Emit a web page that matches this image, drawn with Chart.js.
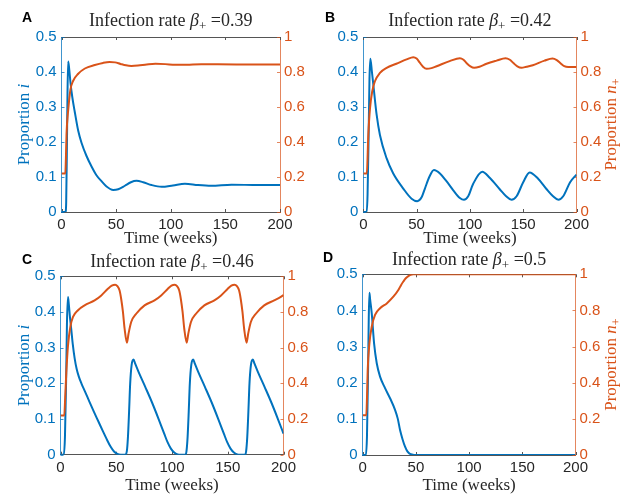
<!DOCTYPE html>
<html>
<head>
<meta charset="utf-8">
<script src="https://cdn.jsdelivr.net/npm/chart.js@4.4.0/dist/chart.umd.min.js"></script>
<style>
  body { margin: 0; background: #fff; width: 629px; height: 498px; position: relative; overflow: hidden; }
  canvas { position: absolute; }
</style>
</head>
<body>
<canvas id="panelA" width="315" height="250" style="left:0;top:0;width:315px;height:250px"></canvas>
<canvas id="panelB" width="314" height="250" style="left:315px;top:0;width:314px;height:250px"></canvas>
<canvas id="panelC" width="315" height="248" style="left:0;top:250px;width:315px;height:248px"></canvas>
<canvas id="panelD" width="314" height="248" style="left:315px;top:250px;width:314px;height:248px"></canvas>
<script>
// ─── Data ─────────────────────────────────────────
const timeTicks = [0, 50, 100, 150, 200];
const infTicks  = [0, 0.1, 0.2, 0.3, 0.4, 0.5];
const nTicks    = [0, 0.2, 0.4, 0.6, 0.8, 1];
const betaValues   = ['0.39', '0.42', '0.46', '0.5'];
const panelLetters = ['A', 'B', 'C', 'D'];

// A: beta = 0.39
const weeksInfA = [0, 3.7, 4.3, 4.9, 5.5, 6.1, 7.0, 8.2, 9.8, 12.2, 15.3, 18.3, 22.9, 27.5, 32, 36.6, 41.2, 47.3, 51.9, 58, 63.5, 68.7, 74.8, 82.4, 91.6, 102, 113, 125, 137, 155.7, 180, 200];
const infA      = [0, 0, 0.03, 0.17, 0.34, 0.43, 0.41, 0.37, 0.33, 0.285, 0.232, 0.198, 0.16, 0.13, 0.105, 0.088, 0.073, 0.063, 0.065, 0.075, 0.085, 0.089, 0.085, 0.077, 0.072, 0.076, 0.081, 0.077, 0.075, 0.078, 0.077, 0.077];
const weeksNA   = [0, 3.5, 4.0, 4.6, 6.1, 8.2, 10.7, 15.3, 21.4, 30.5, 38, 44, 49, 54, 59, 64, 70, 78, 86, 95, 104, 115, 128, 140, 160, 200];
const nPlusA    = [0.22, 0.22, 0.3, 0.445, 0.58, 0.70, 0.75, 0.79, 0.82, 0.84, 0.852, 0.857, 0.855, 0.846, 0.838, 0.835, 0.837, 0.843, 0.847, 0.845, 0.841, 0.842, 0.845, 0.844, 0.843, 0.843];

// B: beta = 0.42
const weeksInfB = [0, 3.2, 4, 5, 5.8, 6.6, 8.1, 9.4, 12.5, 15.6, 21.9, 28.1, 37.5, 45.3, 50.6, 54.7, 57.8, 61.9, 66.3, 71.9, 78, 84.4, 90.6, 94.4, 98.4, 103, 111.6, 118.8, 128, 134, 139, 143.8, 150, 156, 164, 172, 178, 183, 187.5, 194, 200];
const infB      = [0, 0, 0.05, 0.22, 0.38, 0.438, 0.40, 0.364, 0.278, 0.22, 0.153, 0.11, 0.067, 0.038, 0.031, 0.042, 0.067, 0.1, 0.12, 0.11, 0.088, 0.062, 0.04, 0.035, 0.045, 0.08, 0.115, 0.097, 0.065, 0.045, 0.035, 0.045, 0.085, 0.113, 0.095, 0.065, 0.045, 0.035, 0.045, 0.085, 0.107];
const weeksNB   = [0, 3.3, 4.7, 6.3, 8.4, 10.9, 15.6, 21.9, 31, 40.6, 46.9, 50, 53, 56, 59.4, 64, 68.8, 81, 90.6, 94, 97, 100.5, 104, 109, 115.6, 125, 133.4, 137.5, 141, 144.5, 148.4, 153, 159, 170, 177.5, 181.5, 185, 188.5, 192.2, 200];
const nPlusB    = [0.22, 0.22, 0.44, 0.594, 0.69, 0.747, 0.795, 0.824, 0.847, 0.872, 0.885, 0.877, 0.853, 0.83, 0.818, 0.822, 0.833, 0.862, 0.879, 0.87, 0.85, 0.832, 0.824, 0.83, 0.847, 0.865, 0.879, 0.87, 0.85, 0.832, 0.824, 0.83, 0.839, 0.865, 0.877, 0.868, 0.85, 0.833, 0.828, 0.828];

// C: beta = 0.46
const weeksInfC = [0, 3, 4, 5, 5.8, 6.7, 7.5, 8.5, 9.7, 11, 12.7, 14.5, 16.5, 19, 22, 26, 30, 34, 38, 42, 45, 48, 51, 54, 58, 59.5, 60.5, 61.5, 62.5, 63.8, 65.5, 67, 70, 76, 82, 88, 93, 96, 99, 102, 105, 108, 112, 113, 114, 115, 116, 117.3, 119, 120.5, 123.5, 129.5, 135.5, 141.5, 146.5, 149.5, 152.5, 155.5, 158.5, 161, 165.5, 166.5, 167.5, 168.5, 169.5, 170.8, 172.5, 174, 177, 183, 189, 195, 200];
const infC      = [0, 0, 0.05, 0.2, 0.37, 0.442, 0.42, 0.385, 0.35, 0.31, 0.27, 0.24, 0.218, 0.198, 0.177, 0.148, 0.12, 0.093, 0.066, 0.04, 0.022, 0.009, 0.002, 0, 0, 0.01, 0.05, 0.12, 0.2, 0.252, 0.267, 0.255, 0.232, 0.19, 0.147, 0.1, 0.059, 0.035, 0.017, 0.006, 0.001, 0, 0, 0.01, 0.05, 0.12, 0.2, 0.252, 0.267, 0.255, 0.232, 0.19, 0.147, 0.1, 0.059, 0.035, 0.017, 0.006, 0.001, 0, 0, 0.01, 0.05, 0.12, 0.2, 0.252, 0.267, 0.255, 0.232, 0.19, 0.147, 0.1, 0.059];
const weeksNC   = [0, 3.4, 4.2, 5.2, 6.7, 8.8, 11.2, 15.7, 21.6, 30.6, 36.6, 42.5, 46, 49, 51, 53, 54.5, 56, 57.5, 59.6, 61, 63.4, 67.9, 75.4, 84.3, 90.3, 96.3, 99.5, 102.5, 104.5, 106.5, 108, 109.5, 111, 113.2, 114.6, 117, 121.5, 129, 138, 144, 150, 153.2, 156.2, 158.2, 160.2, 161.7, 163.2, 164.7, 166.9, 168.3, 170.7, 175.2, 182.7, 191.6, 197.6, 200];
const nPlusC    = [0.22, 0.22, 0.32, 0.46, 0.61, 0.716, 0.772, 0.81, 0.837, 0.865, 0.893, 0.93, 0.948, 0.953, 0.945, 0.92, 0.87, 0.8, 0.706, 0.628, 0.678, 0.744, 0.79, 0.837, 0.865, 0.893, 0.93, 0.948, 0.953, 0.945, 0.92, 0.87, 0.8, 0.706, 0.628, 0.678, 0.744, 0.79, 0.837, 0.865, 0.893, 0.93, 0.948, 0.953, 0.945, 0.92, 0.87, 0.8, 0.706, 0.628, 0.678, 0.744, 0.79, 0.837, 0.865, 0.885, 0.895];

// D: beta = 0.5
const weeksInfD = [0, 3, 4, 5, 5.7, 6.3, 7, 8.5, 10.7, 13.2, 16.3, 21, 25.7, 30.4, 33, 35.1, 37.5, 39.8, 42, 44, 47, 50, 200];
const infD      = [0, 0, 0.05, 0.22, 0.38, 0.449, 0.43, 0.392, 0.309, 0.254, 0.217, 0.185, 0.157, 0.125, 0.1, 0.069, 0.043, 0.023, 0.01, 0.004, 0.001, 0, 0];
const weeksND   = [0, 3.4, 4.1, 4.7, 6.3, 8.5, 11.6, 16.3, 22.6, 28.8, 33.5, 36, 38.2, 40.5, 42.9, 45, 47.6, 200];
const nPlusD    = [0.22, 0.22, 0.33, 0.47, 0.618, 0.71, 0.775, 0.812, 0.839, 0.876, 0.913, 0.94, 0.96, 0.978, 0.99, 0.997, 1, 1];

// ─── Styles ───────────────────────────────────────
const BLUE   = '#0072BD';
const ORANGE = '#D95319';
const DARK   = '#262626';
const AXIS_DARK  = '#555555';
const AXIS_BLUE  = 'rgba(0,114,189,0.75)';
const AXIS_ORNG  = 'rgba(217,83,25,0.7)';
const SERIF = '"Liberation Serif", "Times New Roman", serif';
const SANS  = '"Liberation Sans", Arial, sans-serif';
const TICK_LEN = 3;

// ─── Panels ───────────────────────────────────────
const panels = [
  { id: 'panelA', w: 315, h: 250, area: { l: 61.5, t: 37, r: 280, b: 212 },
    weeksI: weeksInfA, inf: infA, weeksN: weeksNA, nPlus: nPlusA,
    titleY: 26, letterX: 27, letterY: 18.5, leftTitleX: 28.5, rightTitleX: null, xTitlePad: 1 },
  { id: 'panelB', w: 314, h: 250, area: { l: 48.3, t: 37, r: 261.5, b: 212 },
    weeksI: weeksInfB, inf: infB, weeksN: weeksNB, nPlus: nPlusB,
    titleY: 26, letterX: 15, letterY: 18.5, leftTitleX: null, rightTitleX: 301, xTitlePad: 1 },
  { id: 'panelC', w: 315, h: 248, area: { l: 60.5, t: 26.3, r: 283.5, b: 204.7 },
    weeksI: weeksInfC, inf: infC, weeksN: weeksNC, nPlus: nPlusC,
    titleY: 16.5, letterX: 27, letterY: 10, leftTitleX: 28.5, rightTitleX: null, xTitlePad: 2 },
  { id: 'panelD', w: 314, h: 248, area: { l: 47.7, t: 24.3, r: 260.5, b: 205 },
    weeksI: weeksInfD, inf: infD, weeksN: weeksND, nPlus: nPlusD,
    titleY: 15, letterX: 13, letterY: 8, leftTitleX: null, rightTitleX: 301, xTitlePad: 2 }
];
panels.forEach((p, k) => { p.letter = panelLetters[k]; p.beta = betaValues[k]; });

const panelInfo = {};
panels.forEach(p => { panelInfo[p.id] = p; });

// ─── Helpers ──────────────────────────────────────
function seg(ctx, x1, y1, x2, y2) {
  ctx.beginPath();
  ctx.moveTo(x1, y1);
  ctx.lineTo(x2, y2);
  ctx.stroke();
}

// draws mixed-font text centered on (x, y) baseline, optionally rotated to read bottom-up
function drawRuns(ctx, runs, x, y, color, rotate) {
  ctx.save();
  ctx.translate(x, y);
  if (rotate) ctx.rotate(-Math.PI / 2);
  ctx.fillStyle = color;
  ctx.textBaseline = 'alphabetic';
  ctx.textAlign = 'left';
  let total = 0;
  runs.forEach(r => { ctx.font = r.font; r.w = ctx.measureText(r.text).width; total += r.w; });
  let cx = -total / 2;
  runs.forEach(r => { ctx.font = r.font; ctx.fillText(r.text, cx, r.dy || 0); cx += r.w; });
  ctx.restore();
}

const pxAlign = v => Math.round(v) + 0.5;

// ─── Plugin: box, inward ticks, titles ────────────
const decorPlugin = {
  id: 'decor',
  beforeDatasetsDraw(chart) {
    const { ctx, chartArea: a, scales } = chart;
    ctx.save();
    ctx.lineWidth = 1;

    ctx.strokeStyle = AXIS_DARK;
    seg(ctx, a.left, pxAlign(a.top), a.right, pxAlign(a.top));
    scales.x.ticks.forEach(t => {
      const px = pxAlign(scales.x.getPixelForValue(t.value));
      seg(ctx, px, a.bottom, px, a.bottom - TICK_LEN);
      seg(ctx, px, a.top, px, a.top + TICK_LEN);
    });

    ctx.strokeStyle = AXIS_BLUE;
    scales.yI.ticks.forEach(t => {
      const py = pxAlign(scales.yI.getPixelForValue(t.value));
      seg(ctx, a.left, py, a.left + TICK_LEN, py);
    });

    ctx.strokeStyle = AXIS_ORNG;
    scales.yN.ticks.forEach(t => {
      const py = pxAlign(scales.yN.getPixelForValue(t.value));
      seg(ctx, a.right, py, a.right - TICK_LEN, py);
    });
    ctx.restore();
  },
  afterDraw(chart) {
    const p = panelInfo[chart.canvas.id];
    const { ctx, chartArea: a } = chart;
    const midX = (a.left + a.right) / 2;
    const midY = (a.top + a.bottom) / 2;

    // panel letter
    ctx.save();
    ctx.font = 'bold 14px ' + SANS;
    ctx.fillStyle = '#000';
    ctx.textAlign = 'center';
    ctx.textBaseline = 'middle';
    ctx.fillText(p.letter, p.letterX, p.letterY);
    ctx.restore();

    // title
    drawRuns(ctx, [
      { text: 'Infection rate ', font: '18px ' + SERIF },
      { text: 'β', font: 'italic 18px ' + SERIF },
      { text: '+', font: '13px ' + SERIF, dy: 4 },
      { text: ' =' + p.beta, font: '18px ' + SERIF }
    ], midX, p.titleY, DARK, false);

    if (p.leftTitleX !== null) {
      drawRuns(ctx, [
        { text: 'Proportion ', font: '17px ' + SERIF },
        { text: 'i', font: 'italic 17px ' + SERIF }
      ], p.leftTitleX, midY, BLUE, true);
    }
    if (p.rightTitleX !== null) {
      drawRuns(ctx, [
        { text: 'Proportion ', font: '17px ' + SERIF },
        { text: 'n', font: 'italic 17px ' + SERIF },
        { text: '+', font: '12px ' + SERIF, dy: 4 }
      ], p.rightTitleX, midY, ORANGE, true);
    }
  }
};

// ─── Charts ───────────────────────────────────────
function toPoints(xs, ys) {
  return xs.map((x, k) => ({ x: x, y: ys[k] }));
}

function crearPanel(p) {
  const tickFont = { family: SANS, size: 15 };
  return new Chart(document.getElementById(p.id), {
    type: 'line',
    data: {
      datasets: [
        {
          label: 'n+',
          data: toPoints(p.weeksN, p.nPlus),
          yAxisID: 'yN',
          borderColor: ORANGE,
          order: 1
        },
        {
          label: 'i',
          data: toPoints(p.weeksI, p.inf),
          yAxisID: 'yI',
          borderColor: BLUE,
          order: 2
        }
      ]
    },
    options: {
      responsive: false,
      animation: false,
      events: [],
      layout: { padding: { top: p.area.t, left: 0, right: 0, bottom: 0 } },
      elements: {
        point: { radius: 0 },
        line: { borderWidth: 2, fill: false, cubicInterpolationMode: 'monotone' }
      },
      plugins: {
        legend: { display: false },
        tooltip: { enabled: false },
        title: { display: false }
      },
      scales: {
        x: {
          type: 'linear',
          min: 0,
          max: 200,
          afterBuildTicks: s => { s.ticks = timeTicks.map(v => ({ value: v })); },
          afterFit: s => { s.height = p.h - p.area.b; },
          grid: { display: false, drawTicks: false },
          border: { color: AXIS_DARK, width: 1 },
          ticks: { color: DARK, font: tickFont, padding: 4, maxRotation: 0, autoSkip: false, callback: v => String(v) },
          title: {
            display: true,
            text: 'Time (weeks)',
            color: DARK,
            font: { family: SERIF, size: 17 },
            padding: { top: 0, bottom: p.xTitlePad }
          }
        },
        yI: {
          type: 'linear',
          position: 'left',
          min: 0,
          max: 0.5,
          afterBuildTicks: s => { s.ticks = infTicks.map(v => ({ value: v })); },
          afterFit: s => { s.width = p.area.l; },
          grid: { display: false, drawTicks: false },
          border: { color: AXIS_BLUE, width: 1 },
          ticks: { color: BLUE, font: tickFont, padding: 5, callback: v => String(v) }
        },
        yN: {
          type: 'linear',
          position: 'right',
          min: 0,
          max: 1,
          afterBuildTicks: s => { s.ticks = nTicks.map(v => ({ value: v })); },
          afterFit: s => { s.width = p.w - p.area.r; },
          grid: { display: false, drawTicks: false },
          border: { color: AXIS_ORNG, width: 1 },
          ticks: { color: ORANGE, font: tickFont, padding: 4, callback: v => String(v) }
        }
      }
    },
    plugins: [decorPlugin]
  });
}

// ─── Init ─────────────────────────────────────────
panels.forEach(crearPanel);
</script>
</body>
</html>
